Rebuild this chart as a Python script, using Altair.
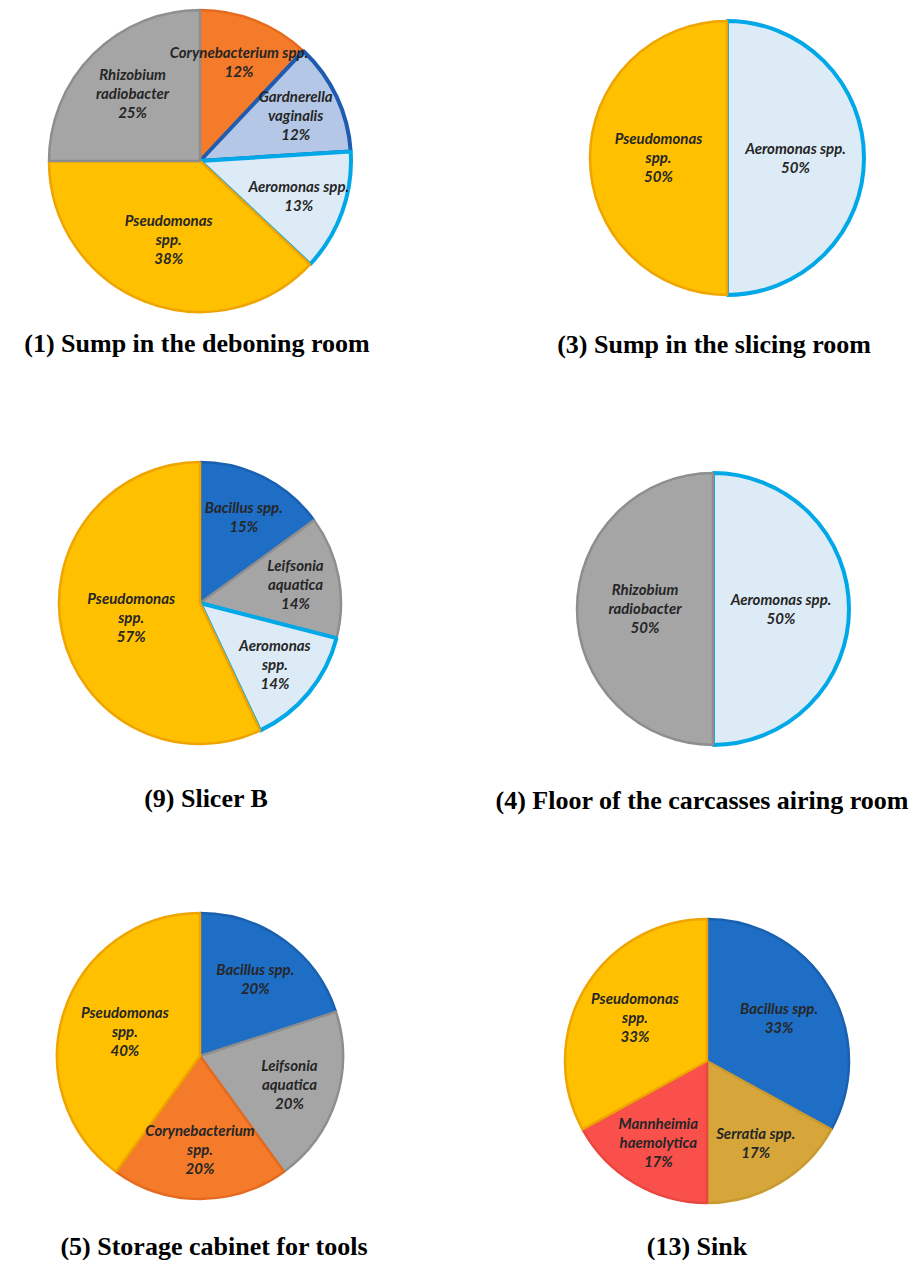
import altair as alt
import pandas as pd

# ---------------- data ----------------
p1_species = ["Corynebacterium spp.", "Gardnerella vaginalis", "Aeromonas spp.", "Pseudomonas spp.", "Rhizobium radiobacter"]
p1_names = ["Corynebacterium spp.", "Gardnerella\nvaginalis", "Aeromonas spp.", "Pseudomonas\nspp.", "Rhizobium\nradiobacter"]
p1_values = [12, 12, 13, 38, 25]

p3_species = ["Aeromonas spp.", "Pseudomonas spp."]
p3_names = ["Aeromonas spp.", "Pseudomonas\nspp."]
p3_values = [50, 50]

p9_species = ["Bacillus spp.", "Leifsonia aquatica", "Aeromonas spp.", "Pseudomonas spp."]
p9_names = ["Bacillus spp.", "Leifsonia\naquatica", "Aeromonas\nspp.", "Pseudomonas\nspp."]
p9_values = [15, 14, 14, 57]

p4_species = ["Aeromonas spp.", "Rhizobium radiobacter"]
p4_names = ["Aeromonas spp.", "Rhizobium\nradiobacter"]
p4_values = [50, 50]

p5_species = ["Bacillus spp.", "Leifsonia aquatica", "Corynebacterium spp.", "Pseudomonas spp."]
p5_names = ["Bacillus spp.", "Leifsonia\naquatica", "Corynebacterium\nspp.", "Pseudomonas\nspp."]
p5_values = [20, 20, 20, 40]

p13_species = ["Bacillus spp.", "Serratia spp.", "Mannheimia haemolytica", "Pseudomonas spp."]
p13_names = ["Bacillus spp.", "Serratia spp.", "Mannheimia\nhaemolytica", "Pseudomonas\nspp."]
p13_values = [33, 17, 17, 33]

titles = [
    "(1) Sump in the deboning room",
    "(3) Sump in the slicing room",
    "(9) Slicer B",
    "(4) Floor of the carcasses airing room",
    "(5) Storage cabinet for tools",
    "(13) Sink",
]

# ---------------- styles ----------------
SPECIES = ["Pseudomonas spp.", "Aeromonas spp.", "Gardnerella vaginalis", "Rhizobium radiobacter",
           "Corynebacterium spp.", "Bacillus spp.", "Leifsonia aquatica", "Serratia spp.",
           "Mannheimia haemolytica"]
FILLS = ["#FFC000", "#DDEBF7", "#B4C7E7", "#A5A5A5", "#F47B2A", "#1E6EC6", "#A5A5A5", "#D6A63A", "#F9504B"]
STROKES = ["#EFA400", "#00A8E8", "#1F5CB0", "#8E8E8E", "#E56A1E", "#1A60B0", "#8E8E8E", "#C89A30", "#EA453F"]

LABEL_FONT = "Lato"
LABEL_SIZE = 15
LINE_H = 19
TITLE_FONT = "Liberation Serif"
TITLE_SIZE = 26


def pie(species, names, values, title, R, w, h, dx, offset):
    df = pd.DataFrame({
        "species": species,
        "text": [f"{n}\n{v}%" for n, v in zip(names, values)],
        "nlines": [n.count("\n") + 2 for n in names],
        "value": values,
        "idx": list(range(len(species))),
    })
    theta_scale = alt.Scale(domain=[0, 100])
    arcs = alt.Chart(df).mark_arc(radius=R, strokeJoin="bevel").encode(
        theta=alt.Theta("value:Q", stack=True, scale=theta_scale),
        order=alt.Order("idx:Q"),
        color=alt.Color("species:N", scale=alt.Scale(domain=SPECIES, range=FILLS), legend=None),
        stroke=alt.Stroke("species:N", scale=alt.Scale(domain=SPECIES, range=STROKES), legend=None),
        strokeWidth=alt.condition(
            "datum.species === 'Aeromonas spp.' || datum.species === 'Gardnerella vaginalis'",
            alt.value(4), alt.value(2.5)),
    )
    # label placed at the slice mid-angle; the anchor is moved up so that the
    # multi-line block is centred on that point
    labels = alt.Chart(df).transform_window(
        cum="sum(value)", sort=[alt.SortField("idx")]
    ).transform_calculate(
        a="(datum.cum - datum.value / 2) / 100 * 2 * PI",
        lr=f"{R} * max(0.5, 0.5 + 0.2 * (50 - datum.value) / 38)",
    ).transform_calculate(
        qx="datum.lr * sin(datum.a)",
        qy=f"-datum.lr * cos(datum.a) - (datum.nlines - 1) * {LINE_H} / 2",
    ).transform_calculate(
        r2="sqrt(datum.qx * datum.qx + datum.qy * datum.qy)",
        t2="((atan2(datum.qx, -datum.qy) / (2 * PI)) * 100 + 100) % 100",
    ).mark_text(
        font=LABEL_FONT, fontSize=LABEL_SIZE, fontWeight="bold", fontStyle="italic",
        lineBreak="\n", lineHeight=LINE_H, color="#262626", align="center", baseline="middle",
    ).encode(
        theta=alt.Theta("t2:Q", stack=None, scale=theta_scale),
        radius=alt.Radius("r2:Q", scale=None),
        text="text:N",
    )
    return alt.layer(arcs, labels).properties(
        width=w, height=h,
        title=alt.TitleParams(
            title, orient="bottom", anchor="middle", frame="group",
            font=TITLE_FONT, fontSize=TITLE_SIZE, fontWeight="bold", color="black",
            dx=dx, offset=offset,
        ),
    )


c1 = pie(p1_species, p1_names, p1_values, titles[0], 151, 384, 306, -3, 17)
c3 = pie(p3_species, p3_names, p3_values, titles[1], 137, 310, 300, -13, 24)
c9 = pie(p9_species, p9_names, p9_values, titles[2], 141, 384, 278, 6, 41)
c4 = pie(p4_species, p4_names, p4_values, titles[3], 136, 282, 290, -11, 34)
c5 = pie(p5_species, p5_names, p5_values, titles[4], 143, 384, 304, 14, 26)
c13 = pie(p13_species, p13_names, p13_values, titles[5], 142, 270, 314, -10, 16)

chart = alt.concat(
    c1, c3, c9, c4, c5, c13,
    columns=2, bounds="flush", align="each",
    spacing=alt.RowColnumber(row=150, column=180),
).properties(
    padding=0
).configure_view(stroke=None).resolve_scale(theta="independent")

chart.save("out.html", embed_options={"renderer": "svg", "actions": False})
